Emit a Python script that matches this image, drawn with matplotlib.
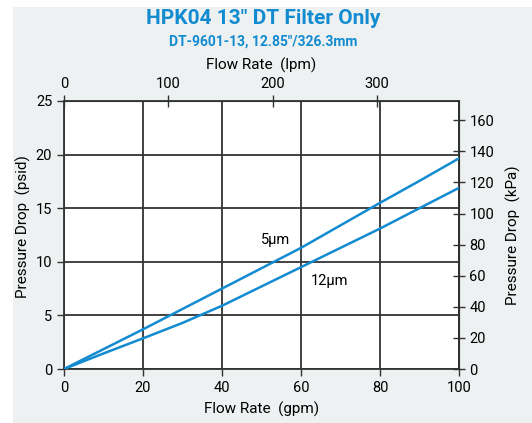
import matplotlib
matplotlib.use("Agg")
import matplotlib.pyplot as plt
from matplotlib.patches import Rectangle

# flow in gpm, pressure drop in psid
flow_gpm = [0, 10, 20, 30, 40, 50, 60, 70, 80, 90, 100]
drop_5um = [0, 1.85, 3.7, 5.6, 7.5, 9.4, 11.3, 13.4, 15.5, 17.55, 19.65]
drop_12um = [0, 1.45, 2.86, 4.3, 5.9, 7.7, 9.5, 11.3, 13.1, 15.0, 16.9]

x_ticks = [0, 20, 40, 60, 80, 100]
y_ticks = [0, 5, 10, 15, 20, 25]
lpm_ticks = [0, 100, 200, 300]
kpa_ticks = [0, 20, 40, 60, 80, 100, 120, 140, 160]

BLUE = "#128bd0"
GRID = "#333333"
BG = "#eef1f2"

plt.rcParams["font.family"] = ["Roboto", "DejaVu Sans"]
plt.rcParams["font.size"] = 10.5

fig = plt.figure(figsize=(5.32, 4.23), dpi=100)
fig.patches.append(Rectangle((13 / 532, 0), 1, 1 - 7 / 423, transform=fig.transFigure,
                             facecolor=BG, edgecolor="none", zorder=-10))

ax = fig.add_axes([64 / 532, 1 - 369 / 423, 395 / 532, 268 / 423])
ax.set_facecolor("white")

ax.plot(flow_gpm, drop_5um, color=BLUE, lw=1.8, zorder=3)
ax.plot(flow_gpm, drop_12um, color=BLUE, lw=1.8, zorder=3)
ax.text(53.5, 12.0, "5µm", ha="center", va="center", fontsize=10.5)
ax.text(67.3, 8.2, "12µm", ha="center", va="center", fontsize=10.5)

ax.set_xlim(0, 100)
ax.set_ylim(0, 25)
ax.set_xticks(x_ticks)
ax.set_yticks(y_ticks)
ax.grid(True, color=GRID, lw=1.3)
ax.set_axisbelow(True)
for s in ax.spines.values():
    s.set_color(GRID)
    s.set_linewidth(1.3)
ax.tick_params(direction="out", length=5, width=1, color=GRID, labelsize=10.5)
ax.set_xlabel("Flow Rate  (gpm)", fontsize=11, labelpad=5)
ax.set_ylabel("Pressure Drop  (psid)", fontsize=11)
ax.yaxis.set_label_coords(-0.083, 0.53)

top = ax.secondary_xaxis("top", functions=(lambda g: g * 3.785, lambda l: l / 3.785))
top.set_xticks(lpm_ticks)
top.tick_params(direction="inout", length=8, width=1, color=GRID, labelsize=10.5)
top.set_xlabel("Flow Rate  (lpm)", fontsize=11, labelpad=5)

right = ax.secondary_yaxis("right", functions=(lambda p: p * 6.895, lambda k: k / 6.895))
right.set_yticks(kpa_ticks)
right.tick_params(direction="inout", length=8, width=1, color=GRID, labelsize=10.5)
right.set_ylabel("Pressure Drop  (kPa)", fontsize=11, labelpad=8)

fig.text(263 / 532, 1 - 19 / 423, "HPK04 13\" DT Filter Only", ha="center", va="center",
         color=BLUE, fontsize=15, fontweight="bold")
fig.text(263 / 532, 1 - 42 / 423, "DT-9601-13, 12.85\"/326.3mm", ha="center", va="center",
         color=BLUE, fontsize=10, fontweight="bold")

fig.savefig("out.png", dpi=100)
